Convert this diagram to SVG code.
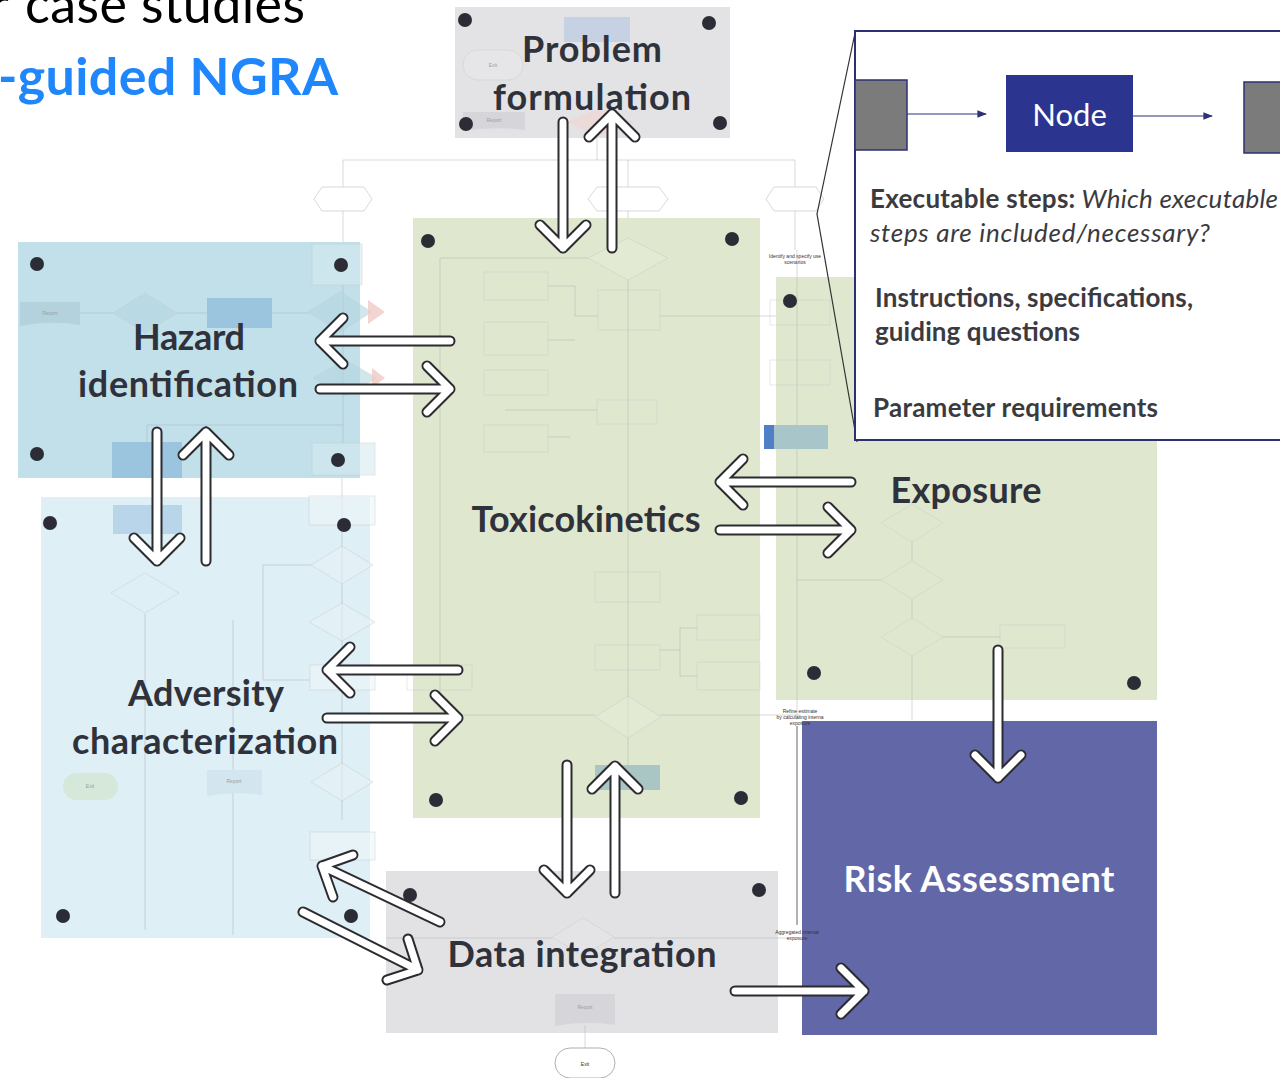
<svg xmlns="http://www.w3.org/2000/svg" xmlns:xlink="http://www.w3.org/1999/xlink" width="1280" height="1078" viewBox="0 0 1280 1078">
  <style>
    .lbl { font-family: Lato, "Open Sans", "Liberation Sans", sans-serif; font-weight: 700; font-size: 36px; fill: #2f323b; text-anchor: middle; }
    .dot { fill: #2b2c35; }
    .fl { fill: none; stroke: #a9aeb0; stroke-width: 0.8; opacity: 0.6; }
    .fb { stroke: #c4c8c8; stroke-width: 0.7; opacity: 0.6; }
    .ft { font-family: "Liberation Sans", Arial, sans-serif; font-size: 5px; fill: #9a9fa1; text-anchor: middle; }
    .fd { font-family: "Liberation Sans", Arial, sans-serif; font-size: 5px; fill: #333; text-anchor: middle; }
    .lg { font-family: Lato, "Open Sans", "Liberation Sans", sans-serif; font-size: 26px; fill: #3b3b3f; }
    .b { font-weight: 700; }
    .i { font-style: italic; }
    .ao { fill: none; stroke: #2b2b30; stroke-width: 11; stroke-linecap: round; stroke-linejoin: round; }
    .ai { fill: none; stroke: #ffffff; stroke-width: 7; stroke-linecap: round; stroke-linejoin: round; }
  </style>
  <defs>
    <marker id="tri" viewBox="0 0 10 10" refX="9" refY="5" markerWidth="8" markerHeight="8" orient="auto">
      <path d="M0,1 L10,5 L0,9 Z" fill="#2d3178"/>
    </marker>
    <path id="a1" d="M563,122 V248 M540,225 L563,248 L586,225"/>
    <path id="a2" d="M612,248 V114 M589,137 L612,114 L635,137"/>
    <path id="a3" d="M450,341 H320 M343,318 L320,341 L343,364"/>
    <path id="a4" d="M320,389 H450 M427,366 L450,389 L427,412"/>
    <path id="a5" d="M157,432 V561 M134,538 L157,561 L180,538"/>
    <path id="a6" d="M206,561 V432 M183,455 L206,432 L229,455"/>
    <path id="a7" d="M851,482 H720 M743,459 L720,482 L743,505"/>
    <path id="a8" d="M720,530 H851 M828,507 L851,530 L828,553"/>
    <path id="a9" d="M458,670 H327 M350,647 L327,670 L350,693"/>
    <path id="a10" d="M327,718 H458 M435,695 L458,718 L435,741"/>
    <path id="a11" d="M567,765 V893 M544,870 L567,893 L590,870"/>
    <path id="a12" d="M615,893 V766 M592,789 L615,766 L638,789"/>
    <path id="a13" d="M998,650 V778 M975,755 L998,778 L1021,755"/>
    <path id="a14" d="M735,991 H864 M841,968 L864,991 L841,1014"/>
    <path id="a15" d="M440,922 L322,866 M333,897 L322,866 L353,855"/>
    <path id="a16" d="M303,912 L418,970 M408,939 L418,970 L387,980"/>
  </defs>

  <rect width="1280" height="1078" fill="#ffffff"/>

  <!-- heading, running off the top-left edge -->
  <g id="title">
    <text x="-10" y="23" font-family="Lato, 'Open Sans', sans-serif" font-size="52" fill="#000">r</text>
    <text x="25" y="23" font-family="Lato, 'Open Sans', sans-serif" font-size="52" fill="#000" textLength="280">case studies</text>
    <text x="-2" y="95" font-family="Lato, 'Open Sans', sans-serif" font-size="52" font-weight="700" fill="#1f87fb" textLength="340">-guided NGRA</text>
  </g>

  <!-- coloured phase panels -->
  <g id="problem-formulation">
    <rect x="455" y="7" width="275" height="131" fill="#e3e3e6"/>
    <rect x="564" y="17" width="66" height="25" fill="#b9c9e2" opacity="0.7"/>
    <rect x="463" y="50" width="60" height="30" rx="15" fill="#e8e8ea" class="fb"/>
    <text x="493" y="67" class="ft">Exit</text>
    <path d="M463,112 H525 V130 Q494,126 463,131 Z" fill="#d6d6da"/>
    <text x="494" y="122" class="ft">Report</text>
    <polygon points="566,122 600,108 634,122 600,136" fill="#efd6d3" opacity="0.7"/>
    <circle class="dot" cx="465" cy="20" r="7"/>
    <circle class="dot" cx="709" cy="23" r="7"/>
    <circle class="dot" cx="466" cy="124" r="7"/>
    <circle class="dot" cx="720" cy="123" r="7"/>
    <text class="lbl" x="592" y="62" textLength="140">Problem</text>
    <text class="lbl" x="592" y="110" textLength="198">formulation</text>
  </g>

  <!-- flowchart links above the panels -->
  <g id="flow-top">
    <path class="fl" d="M597,138 V160 M343,160 H795 M343,160 V187 M628,160 V187 M795,160 V187 M343,211 V245 M628,211 V238 M795,211 V250"/>
    <polygon class="fl" points="314,199 322,187 364,187 372,199 364,211 322,211" fill="#fff"/>
    <polygon class="fl" points="588,199 597,187 659,187 668,199 659,211 597,211" fill="#fff"/>
    <polygon class="fl" points="766,199 774,187 816,187 824,199 816,211 774,211" fill="#fff"/>
    <text x="795" y="258" class="fd">Identify and specify use</text>
    <text x="795" y="264" class="fd">scenarios</text>
  </g>

  <g id="hazard-identification">
    <rect x="18" y="242" width="342" height="236" fill="#c1e0ea"/>
    <rect x="312" y="244" width="50" height="41" fill="#d6ebf1" class="fb"/>
    <path class="fl" d="M343,285 V443 M80,313 H113 M177,313 H207 M272,313 H308 M147,425 H343 M147,425 V442"/>
    <polygon points="308,312 340,292 372,312 340,332" fill="#b5d6e1" class="fb"/>
    <polygon points="368,300 385,312 368,324" fill="#efc9c4" opacity="0.8"/>
    <rect x="207" y="298" width="65" height="30" fill="#9bc5df"/>
    <polygon points="113,313 145,293 177,313 145,333" fill="#b5d6e1" class="fb"/>
    <path d="M20,302 H80 V325 Q50,320 20,326 Z" fill="#b3d2de"/>
    <text x="50" y="315" class="ft">Report</text>
    <polygon points="313,378 345,360 377,378 345,396" fill="#b5d6e1" class="fb"/>
    <polygon points="372,368 385,378 372,388" fill="#efc9c4" opacity="0.8"/>
    <rect x="112" y="442" width="70" height="36" fill="#9bc5df"/>
    <rect x="312" y="443" width="63" height="32" fill="#d6ebf1" class="fb"/>
    <circle class="dot" cx="37" cy="264" r="7"/>
    <circle class="dot" cx="341" cy="265" r="7"/>
    <circle class="dot" cx="37" cy="454" r="7"/>
    <circle class="dot" cx="338" cy="460" r="7"/>
    <text class="lbl" x="189" y="350" textLength="112">Hazard</text>
    <text class="lbl" x="188" y="397" textLength="220">identification</text>
  </g>

  <g id="adversity-characterization">
    <rect x="41" y="497" width="329" height="441" fill="#dfeff6"/>
    <path class="fl" d="M145,614 V930 M233,620 V935 M342,478 V820 M263,565 V680 M263,565 H311 M263,680 H310"/>
    <rect x="113" y="505" width="69" height="29" fill="#b8d5e9"/>
    <polygon points="111,593 145,573 179,593 145,613" fill="none" class="fb"/>
    <rect x="309" y="496" width="66" height="29" fill="#eef6fa" class="fb"/>
    <polygon points="311,565 342,546 373,565 342,584" fill="#e6f1f6" class="fb"/>
    <polygon points="309,622 342,603 375,622 342,641" fill="#e6f1f6" class="fb"/>
    <rect x="310" y="665" width="65" height="25" fill="#eef6fa" class="fb"/>
    <polygon points="311,782 342,763 373,782 342,801" fill="#e6f1f6" class="fb"/>
    <path d="M207,770 H262 V795 Q235,791 207,796 Z" fill="#d3e5ee"/>
    <text x="234" y="783" class="ft">Report</text>
    <rect x="63" y="773" width="55" height="27" rx="13.5" fill="#d5e8da"/>
    <text x="90" y="788" class="ft">Exit</text>
    <rect x="310" y="832" width="65" height="28" fill="#eef6fa" class="fb"/>
    <circle class="dot" cx="50" cy="523" r="7"/>
    <circle class="dot" cx="344" cy="525" r="7"/>
    <circle class="dot" cx="63" cy="916" r="7"/>
    <circle class="dot" cx="351" cy="916" r="7"/>
    <text class="lbl" x="206" y="706" textLength="156">Adversity</text>
    <text class="lbl" x="205" y="754" textLength="266">characterization</text>
  </g>

  <g id="toxicokinetics">
    <rect x="413" y="218" width="347" height="600" fill="#dfe8cf"/>
    <path class="fl" d="M628,280 V780 M440,258 H588 M440,258 V700 M548,286 H575 V316 H598 M660,316 H776 M548,340 H575 M505,410 H597 M548,437 H570 M440,715 H595 M660,715 H800 M697,628 H680 V676 H697 M680,650 H660"/>
    <polygon points="588,258 628,238 668,258 628,280" fill="#e4ecd7" class="fb"/>
    <rect x="484" y="272" width="64" height="28" fill="none" class="fb"/>
    <rect x="484" y="322" width="64" height="33" fill="none" class="fb"/>
    <rect x="484" y="370" width="64" height="25" fill="none" class="fb"/>
    <rect x="484" y="425" width="64" height="27" fill="none" class="fb"/>
    <rect x="598" y="290" width="62" height="40" fill="none" class="fb"/>
    <rect x="597" y="400" width="60" height="24" fill="none" class="fb"/>
    <rect x="595" y="572" width="65" height="30" fill="none" class="fb"/>
    <rect x="595" y="645" width="65" height="25" fill="none" class="fb"/>
    <rect x="697" y="615" width="63" height="25" fill="none" class="fb"/>
    <rect x="697" y="662" width="63" height="28" fill="none" class="fb"/>
    <polygon points="595,717 628,696 661,717 628,738" fill="#e4ecd7" class="fb"/>
    <rect x="407" y="665" width="65" height="25" fill="none" class="fb"/>
    <rect x="595" y="765" width="65" height="25" fill="#a9c6c4"/>
    <circle class="dot" cx="428" cy="241" r="7"/>
    <circle class="dot" cx="732" cy="239" r="7"/>
    <circle class="dot" cx="436" cy="800" r="7"/>
    <circle class="dot" cx="741" cy="798" r="7"/>
    <text class="lbl" x="586" y="532" textLength="229">Toxicokinetics</text>
  </g>

  <g id="exposure">
    <rect x="776" y="277" width="381" height="423" fill="#dfe8cf"/>
    <path class="fl" d="M797,250 V720 M797,580 H881 M943,637 H1000 M912,542 V561 M912,599 V618 M912,656 V720"/>
    <rect x="770" y="300" width="60" height="25" fill="none" class="fb"/>
    <rect x="770" y="360" width="60" height="25" fill="none" class="fb"/>
    <rect x="764" y="425" width="64" height="24" fill="#a8c5c9"/>
    <rect x="764" y="425" width="10" height="24" fill="#4f7fc4"/>
    <polygon points="881,523 912,504 943,523 912,542" fill="none" class="fb"/>
    <polygon points="881,580 912,561 943,580 912,599" fill="none" class="fb"/>
    <polygon points="881,637 912,618 943,637 912,656" fill="none" class="fb"/>
    <rect x="1000" y="625" width="65" height="23" fill="none" class="fb"/>
    <circle class="dot" cx="790" cy="301" r="7"/>
    <circle class="dot" cx="814" cy="673" r="7"/>
    <circle class="dot" cx="1134" cy="683" r="7"/>
    <text class="lbl" x="966" y="503" textLength="151">Exposure</text>
  </g>

  <g id="risk-assessment">
    <rect x="802" y="721" width="355" height="314" fill="#6267a7"/>
    <text x="979" y="892" class="lbl" style="fill:#ffffff" textLength="271">Risk Assessment</text>
  </g>

  <g id="data-integration">
    <rect x="386" y="871" width="392" height="162" fill="#e2e2e4"/>
    <path class="fl" d="M386,938 H552 M614,938 H790 M585,1025 V1048"/>
    <polygon points="552,937 583,918 614,937 583,956" fill="#e6e6e8" class="fb"/>
    <path d="M555,994 H615 V1025 Q585,1020 555,1026 Z" fill="#d6d6da"/>
    <text x="585" y="1009" class="ft">Report</text>
    <circle class="dot" cx="410" cy="895" r="7"/>
    <circle class="dot" cx="759" cy="890" r="7"/>
    <text class="lbl" x="582" y="967" textLength="269">Data integration</text>
  </g>

  <!-- links around the risk panel -->
  <g id="flow-bottom">
    <path d="M797,726 V925" stroke="#555" stroke-width="0.9" fill="none"/>
    <text x="800" y="713" class="fd">Refine estimate</text>
    <text x="800" y="719" class="fd">by calculating interna</text>
    <text x="800" y="725" class="fd">exposure</text>
    <text x="797" y="934" class="fd">Aggregated internal</text>
    <text x="797" y="940" class="fd">exposure</text>
    <rect x="555" y="1048" width="60" height="30" rx="15" fill="#ffffff" stroke="#9a9a9a" stroke-width="0.8"/>
    <text x="585" y="1066" class="fd">Exit</text>
  </g>

  <!-- zoomed node legend -->
  <g id="legend">
    <path d="M855,33 L817,214 L857,442" fill="none" stroke="#333" stroke-width="1.2"/>
    <rect x="855" y="31" width="440" height="409" fill="#ffffff" stroke="#2d3070" stroke-width="2"/>
    <rect x="855" y="80" width="52" height="70" fill="#7b7b7b" stroke="#2d3070" stroke-width="1.5"/>
    <rect x="1006" y="75" width="127" height="77" fill="#2b3590"/>
    <text x="1069.5" y="126" font-family="Lato, 'Open Sans', sans-serif" font-size="31" fill="#ffffff" text-anchor="middle">Node</text>
    <rect x="1244" y="82" width="50" height="71" fill="#7b7b7b" stroke="#2d3070" stroke-width="1.5"/>
    <line x1="907" y1="114" x2="986" y2="114" stroke="#2d3178" stroke-width="1.2" marker-end="url(#tri)"/>
    <line x1="1133" y1="116" x2="1212" y2="116" stroke="#2d3178" stroke-width="1.2" marker-end="url(#tri)"/>
    <text x="870" y="208" class="lg" textLength="408"><tspan class="b">Executable steps:</tspan><tspan class="i"> Which executable</tspan></text>
    <text x="870" y="242" class="lg i" textLength="340">steps are included/necessary?</text>
    <text x="875" y="307" class="lg b" textLength="318">Instructions, specifications,</text>
    <text x="875" y="341" class="lg b" textLength="205">guiding questions</text>
    <text x="873" y="417" class="lg b" textLength="285">Parameter requirements</text>
  </g>

  <!-- big two-way arrows between the phases -->
  <g id="connectors">
    <use xlink:href="#a1" class="ao"/><use xlink:href="#a1" class="ai"/>
    <use xlink:href="#a2" class="ao"/><use xlink:href="#a2" class="ai"/>
    <use xlink:href="#a3" class="ao"/><use xlink:href="#a3" class="ai"/>
    <use xlink:href="#a4" class="ao"/><use xlink:href="#a4" class="ai"/>
    <use xlink:href="#a5" class="ao"/><use xlink:href="#a5" class="ai"/>
    <use xlink:href="#a6" class="ao"/><use xlink:href="#a6" class="ai"/>
    <use xlink:href="#a7" class="ao"/><use xlink:href="#a7" class="ai"/>
    <use xlink:href="#a8" class="ao"/><use xlink:href="#a8" class="ai"/>
    <use xlink:href="#a9" class="ao"/><use xlink:href="#a9" class="ai"/>
    <use xlink:href="#a10" class="ao"/><use xlink:href="#a10" class="ai"/>
    <use xlink:href="#a11" class="ao"/><use xlink:href="#a11" class="ai"/>
    <use xlink:href="#a12" class="ao"/><use xlink:href="#a12" class="ai"/>
    <use xlink:href="#a13" class="ao"/><use xlink:href="#a13" class="ai"/>
    <use xlink:href="#a14" class="ao"/><use xlink:href="#a14" class="ai"/>
    <use xlink:href="#a15" class="ao"/><use xlink:href="#a15" class="ai"/>
    <use xlink:href="#a16" class="ao"/><use xlink:href="#a16" class="ai"/>
  </g>
</svg>
